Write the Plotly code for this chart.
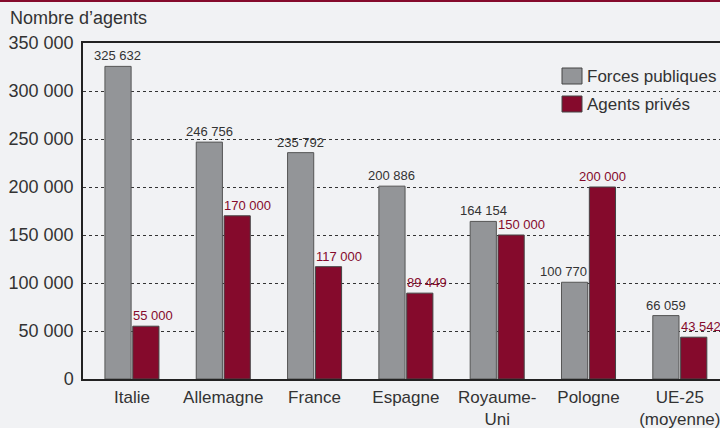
import plotly.graph_objects as go

categories = ["Italie", "Allemagne", "France", "Espagne", "Royaume-<br>Uni", "Pologne", "UE-25<br>(moyenne)"]
forces_publiques = [325632, 246756, 235792, 200886, 164154, 100770, 66059]
agents_prives = [55000, 170000, 117000, 89449, 150000, 200000, 43542]
publiques_label_align = ["center", "center", "center", "center", "center", "right", "center"]
prive_label_align = ["left", "left", "left", "left", "left", "center", "left"]
series_names = ["Forces publiques", "Agents privés"]
y_ticks = [0, 50000, 100000, 150000, 200000, 250000, 300000, 350000]

GREY = "#939598"
RED = "#850a2c"
TEXT = "#333333"
BG = "#f1f2f4"
FONT = "Liberation Sans"

W, H = 720, 428
ML, MR, MT, MB = 83, 0, 43, 49
plot_w = W - ML - MR
plot_h = H - MT - MB

def px_x(x):
    return (x - ML) / plot_w

def px_y(y):
    return (H - MB - y) / plot_h

def fmt(v):
    return f"{v:,}".replace(",", " ")

fig = go.Figure()
fig.add_trace(go.Bar(name=series_names[0], x=categories, y=forces_publiques, showlegend=False,
                     marker=dict(color=GREY, line=dict(color="#555555", width=1))))
fig.add_trace(go.Bar(name=series_names[1], x=categories, y=agents_prives, showlegend=False,
                     marker=dict(color=RED, line=dict(color="#444444", width=1))))

annotations = []
shift_pub = {"center": -14, "right": 0}
for c, v, a in zip(categories, forces_publiques, publiques_label_align):
    annotations.append(dict(x=c, y=v, xref="x", yref="y", text=fmt(v), showarrow=False,
                            xanchor=a, yanchor="bottom", xshift=shift_pub[a], yshift=1,
                            font=dict(size=13, color=TEXT, family=FONT)))
for c, v, a in zip(categories, agents_prives, prive_label_align):
    annotations.append(dict(x=c, y=v, xref="x", yref="y", text=fmt(v), showarrow=False,
                            xanchor=a, yanchor="bottom", xshift=(-1 if a == "left" else 14), yshift=1,
                            font=dict(size=13, color=RED, family=FONT)))
annotations.append(dict(x=px_x(8), y=px_y(18), xref="paper", yref="paper", text="Nombre d’agents",
                        xanchor="left", yanchor="middle", showarrow=False,
                        font=dict(size=18, color=TEXT, family=FONT)))

# legend (drawn manually to match square swatches)
shapes = [dict(type="line", xref="paper", yref="paper", x0=px_x(0), x1=1,
               y0=px_y(1), y1=px_y(1), line=dict(color=RED, width=2))]
for i, (name, col) in enumerate(zip(series_names, [GREY, RED])):
    yc = 76 + 28 * i
    shapes.append(dict(type="rect", xref="paper", yref="paper", x0=px_x(562), x1=px_x(582),
                       y0=px_y(yc - 8), y1=px_y(yc + 8), fillcolor=col,
                       line=dict(color="#444444", width=1)))
    annotations.append(dict(x=px_x(585), y=px_y(yc), xref="paper", yref="paper", text=name,
                            xanchor="left", yanchor="middle", showarrow=False,
                            font=dict(size=17, color=TEXT, family=FONT)))

fig.update_layout(
    width=W, height=H,
    margin=dict(l=ML, r=MR, t=MT, b=MB, autoexpand=False),
    paper_bgcolor=BG, plot_bgcolor=BG,
    barmode="group", bargap=0.39, bargroupgap=0.06,
    separators=", ",
    font=dict(family=FONT, size=17, color=TEXT),
    showlegend=False,
    annotations=annotations,
    shapes=shapes,
)
fig.update_xaxes(range=[-0.536, 6.44], showline=True, mirror=True, linecolor="#222222", linewidth=1.5,
                 ticks="outside", ticklen=2, tickcolor=BG, tickfont=dict(size=17, color=TEXT),
                 showgrid=False, automargin=False)
fig.update_yaxes(range=[0, 350000], tickvals=y_ticks, tickformat=",d", showline=True, linecolor="#222222",
                 linewidth=1.5, showgrid=True, gridcolor="#333333", griddash="dot", gridwidth=1,
                 zeroline=False, ticks="outside", ticklen=4, tickcolor=BG, automargin=False,
                 tickfont=dict(size=18, color=TEXT))

fig.write_html("out.html", config={"displayModeBar": False},
               post_script="document.body.style.margin='0';document.body.style.background='#f1f2f4';")
